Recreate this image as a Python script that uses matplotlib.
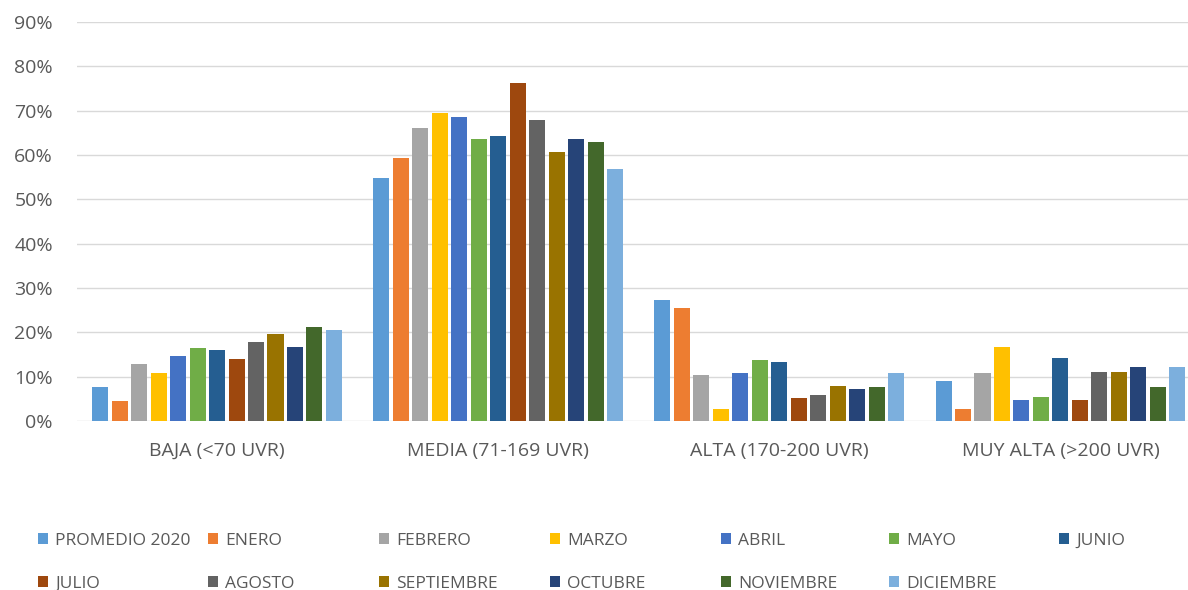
import matplotlib
matplotlib.use("Agg")
import matplotlib.pyplot as plt
import numpy as np

plt.rcParams['font.family'] = ['Open Sans', 'DejaVu Sans']

categories = ["BAJA (<70 UVR)", "MEDIA (71-169 UVR)", "ALTA (170-200 UVR)", "MUY ALTA (>200 UVR)"]
series_names = ["PROMEDIO 2020", "ENERO", "FEBRERO", "MARZO", "ABRIL", "MAYO", "JUNIO",
                "JULIO", "AGOSTO", "SEPTIEMBRE", "OCTUBRE", "NOVIEMBRE", "DICIEMBRE"]
colors = ["#5B9BD5", "#ED7D31", "#A5A5A5", "#FFC000", "#4472C4", "#70AD47", "#255E91",
          "#9E480E", "#636363", "#997300", "#264478", "#43682B", "#7CAFDD"]

promedio   = [0.077, 0.549, 0.273, 0.091]
enero      = [0.045, 0.594, 0.254, 0.028]
febrero    = [0.128, 0.660, 0.103, 0.109]
marzo      = [0.109, 0.694, 0.027, 0.168]
abril      = [0.146, 0.686, 0.109, 0.048]
mayo       = [0.165, 0.637, 0.137, 0.054]
junio      = [0.160, 0.642, 0.134, 0.141]
julio      = [0.140, 0.763, 0.053, 0.047]
agosto     = [0.179, 0.679, 0.058, 0.111]
septiembre = [0.197, 0.607, 0.080, 0.111]
octubre    = [0.168, 0.637, 0.072, 0.122]
noviembre  = [0.211, 0.629, 0.077, 0.077]
diciembre  = [0.205, 0.569, 0.109, 0.121]

series = [promedio, enero, febrero, marzo, abril, mayo, junio,
          julio, agosto, septiembre, octubre, noviembre, diciembre]

W, H = 1188, 590
fig = plt.figure(figsize=(W / 100, H / 100), dpi=100)
ax_left, ax_right = 76.5, 1201.0
ax = fig.add_axes([ax_left / W, 1 - 421 / H, (ax_right - ax_left) / W, (421 - 22) / H])

x = np.arange(len(categories))
step = 0.0693
width = 0.057
n = len(series)
handles = []
for i, (name, vals, c) in enumerate(zip(series_names, series, colors)):
    b = ax.bar(x + (i - (n - 1) / 2) * step, vals, width=width, color=c, label=name, zorder=3)
    handles.append(b)

ax.set_xlim(-0.5, len(categories) - 0.5)
ax.set_ylim(0, 0.9)
yt = np.arange(0, 0.91, 0.1)
ax.set_yticks(yt)
ax.set_yticklabels([f"{int(round(v * 100))}%" for v in yt])
ax.yaxis.grid(True, color="#D9D9D9", linewidth=1.0, zorder=0)
ax.set_axisbelow(True)
for s in ax.spines.values():
    s.set_visible(False)
ax.tick_params(axis='both', length=0, colors="#595959", labelsize=14)
ax.tick_params(axis='y', pad=17)
ax.tick_params(axis='x', pad=15)
ax.set_xticks(x)
ax.set_xticklabels(categories)

# Legend: 7 evenly spaced columns, 2 rows (row-major order)
col_x = [42, 212, 383, 554, 725, 893, 1063]
ncol = 7
for j in range(ncol):
    idx = [k for k in (j, j + ncol) if k < n]
    fig.legend([handles[k] for k in idx], [series_names[k] for k in idx],
               loc="upper left", bbox_to_anchor=((col_x[j] - 4) / W, 1 - 533 / H),
               frameon=False, fontsize=12.5, labelcolor="#595959",
               handlelength=0.6, handleheight=0.6, handletextpad=0.4,
               labelspacing=1.55, borderpad=0, borderaxespad=0)

fig.savefig("out.png", dpi=100, facecolor="white")
